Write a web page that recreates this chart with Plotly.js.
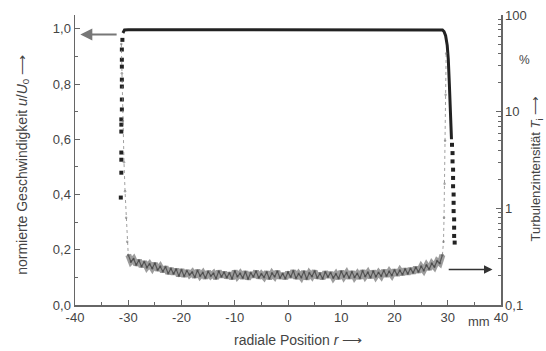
<!DOCTYPE html>
<html>
<head>
<meta charset="utf-8">
<script src="https://cdn.plot.ly/plotly-3.0.1.min.js"></script>
<style>html,body{margin:0;padding:0;background:#fff;}#chart{width:546px;height:351px;}</style>
</head>
<body>
<div id="chart"></div>
<script>
// ---- data ----
// velocity u/U0 : plateau and right edge (solid line)
var velLineX = [-31.0, -30.7, -30.0, -25, -20, -15, -10, -5, 0, 5, 10, 15, 20, 25, 28, 29.0, 29.3, 29.6, 29.9, 30.1, 30.3, 30.5, 30.7];
var velLineY = [0.985, 0.996, 0.997, 0.997, 0.997, 0.997, 0.997, 0.997, 0.997, 0.997, 0.997, 0.997, 0.997, 0.997, 0.997, 0.996, 0.99, 0.975, 0.94, 0.89, 0.8, 0.7, 0.6];
// velocity, left edge (sparse points)
var velLeftX = [-31.1, -31.2, -31.2, -31.2, -31.2, -31.2, -31.2, -31.2, -31.3, -31.3, -31.3, -31.3, -31.3, -31.3, -31.4];
var velLeftY = [0.96, 0.925, 0.888, 0.863, 0.816, 0.791, 0.744, 0.708, 0.672, 0.653, 0.628, 0.552, 0.526, 0.479, 0.389];
// velocity, right edge (sparse points)
var velRightX = [30.8, 30.9, 30.9, 31.0, 31.0, 31.0, 31.1, 31.1, 31.1, 31.2, 31.2, 31.2, 31.3];
var velRightY = [0.58, 0.55, 0.52, 0.49, 0.46, 0.43, 0.40, 0.37, 0.34, 0.31, 0.28, 0.25, 0.226];
// turbulence intensity Ti in % : core region
var turbX = [
  -30.0, -29.5, -29.0, -28.5, -28.0, -27.5, -27.0, -26.5, -26.0, -25.5, -25.0, -24.5, -24.0, -23.5, -23.0, -22.5, -22.0, -21.5, -21.0, -20.5,
  -20.0, -19.5, -19.0, -18.5, -18.0, -17.5, -17.0, -16.5, -16.0, -15.5, -15.0, -14.5, -14.0, -13.5, -13.0, -12.5, -12.0, -11.5, -11.0, -10.5,
  -10.0, -9.5, -9.0, -8.5, -8.0, -7.5, -7.0, -6.5, -6.0, -5.5, -5.0, -4.5, -4.0, -3.5, -3.0, -2.5, -2.0, -1.5, -1.0, -0.5,
  0.0, 0.5, 1.0, 1.5, 2.0, 2.5, 3.0, 3.5, 4.0, 4.5, 5.0, 5.5, 6.0, 6.5, 7.0, 7.5, 8.0, 8.5, 9.0, 9.5,
  10.0, 10.5, 11.0, 11.5, 12.0, 12.5, 13.0, 13.5, 14.0, 14.5, 15.0, 15.5, 16.0, 16.5, 17.0, 17.5, 18.0, 18.5, 19.0, 19.5,
  20.0, 20.5, 21.0, 21.5, 22.0, 22.5, 23.0, 23.5, 24.0, 24.5, 25.0, 25.5, 26.0, 26.5, 27.0, 27.5, 28.0, 28.5, 29.0];
var turbY = [
  0.33, 0.28, 0.30, 0.26, 0.29, 0.25, 0.28, 0.245, 0.265, 0.24, 0.27, 0.23, 0.25, 0.222, 0.248, 0.212, 0.238, 0.21, 0.235, 0.2,
  0.232, 0.198, 0.226, 0.205, 0.218, 0.194, 0.228, 0.2, 0.215, 0.19, 0.222, 0.2, 0.212, 0.188, 0.224, 0.196, 0.218, 0.192, 0.214, 0.187,
  0.225, 0.197, 0.212, 0.19, 0.221, 0.186, 0.215, 0.196, 0.224, 0.191, 0.209, 0.194, 0.22, 0.187, 0.213, 0.197, 0.223, 0.19, 0.211, 0.188,
  0.219, 0.195, 0.226, 0.189, 0.21, 0.193, 0.222, 0.186, 0.214, 0.198, 0.225, 0.19, 0.212, 0.187, 0.22, 0.195, 0.216, 0.191, 0.209, 0.188,
  0.223, 0.196, 0.215, 0.19, 0.221, 0.194, 0.211, 0.189, 0.226, 0.198, 0.217, 0.192, 0.224, 0.197, 0.216, 0.199, 0.228, 0.2, 0.222, 0.203,
  0.23, 0.204, 0.228, 0.207, 0.236, 0.21, 0.238, 0.215, 0.245, 0.22, 0.25, 0.228, 0.258, 0.235, 0.268, 0.248, 0.285, 0.27, 0.33];
// turbulence intensity Ti in % : steep rise at the jet edges
var turbLeftX = [-31.3, -31.2, -31.0, -30.8, -30.6, -30.4, -30.2, -30.0];
var turbLeftY = [50, 25, 8, 3, 1.5, 0.8, 0.45, 0.33];
var turbRightX = [29.0, 29.2, 29.3, 29.4, 29.5, 29.6, 29.7];
var turbRightY = [0.33, 0.45, 0.8, 1.8, 5, 15, 40];
// tick labels
var xTickVals = [-40, -30, -20, -10, 0, 10, 20, 30, 40];
var xTickText = ['-40', '-30', '-20', '-10', '0', '10', '20', '30', '40'];
var yTickVals = [0, 0.2, 0.4, 0.6, 0.8, 1.0];
var yTickText = ['0,0', '0,2', '0,4', '0,6', '0,8', '1,0'];
var y2TickVals = [0.1, 1, 10, 100];
var y2TickText = ['0,1', '1', '10', '100'];

var txt = '#444';
var font = {family: 'Liberation Sans, Arial, sans-serif', size: 13, color: txt};

var edgeStyle = {line: {color: 'rgba(120,120,120,0.7)', width: 1, dash: 'dot'},
                 marker: {color: 'rgba(110,110,110,0.6)', size: 2.5}};

var traces = [
  {x: turbX, y: turbY, yaxis: 'y2', type: 'scatter', mode: 'lines',
   line: {color: 'rgba(60,60,60,0.5)', width: 6}, hoverinfo: 'skip'},
  {x: turbX, y: turbY, yaxis: 'y2', type: 'scatter', mode: 'lines+markers',
   line: {color: 'rgba(40,40,40,0.6)', width: 1.2},
   marker: {color: 'rgba(60,60,60,0.5)', size: 2.5}, hoverinfo: 'skip'},
  {x: turbLeftX, y: turbLeftY, yaxis: 'y2', type: 'scatter', mode: 'lines+markers',
   line: edgeStyle.line, marker: edgeStyle.marker, hoverinfo: 'skip'},
  {x: turbRightX, y: turbRightY, yaxis: 'y2', type: 'scatter', mode: 'lines+markers',
   line: edgeStyle.line, marker: edgeStyle.marker, hoverinfo: 'skip'},
  {x: velLineX, y: velLineY, type: 'scatter', mode: 'lines',
   line: {color: '#222', width: 3}, hoverinfo: 'skip'},
  {x: velLeftX, y: velLeftY, type: 'scatter', mode: 'markers',
   marker: {color: '#222', size: 4, symbol: 'square'}, hoverinfo: 'skip'},
  {x: velRightX, y: velRightY, type: 'scatter', mode: 'markers',
   marker: {color: '#222', size: 4, symbol: 'square'}, hoverinfo: 'skip'}
];

var axisCommon = {
  showgrid: false, zeroline: false, showline: true, linecolor: '#666', linewidth: 1.5,
  ticks: 'inside', ticklen: 5, tickcolor: '#666', tickwidth: 1, tickfont: font
};

var layout = {
  width: 546, height: 351,
  margin: {l: 75, r: 45, t: 15, b: 45.5},
  paper_bgcolor: '#fff', plot_bgcolor: '#fff',
  showlegend: false,
  font: font,
  xaxis: Object.assign({}, axisCommon, {
    range: [-40, 40], tickmode: 'array', tickvals: xTickVals, ticktext: xTickText,
    minor: {ticks: 'inside', dtick: 5, ticklen: 3, tickcolor: '#666'}
  }),
  yaxis: Object.assign({}, axisCommon, {
    range: [0, 1.05], tickmode: 'array', tickvals: yTickVals, ticktext: yTickText,
    minor: {ticks: 'inside', dtick: 0.1, ticklen: 3, tickcolor: '#666'}
  }),
  yaxis2: Object.assign({}, axisCommon, {
    type: 'log', range: [-1, 2], overlaying: 'y', side: 'right',
    tickmode: 'array', tickvals: y2TickVals, ticktext: y2TickText,
    minor: {ticks: 'inside', ticklen: 3, tickcolor: '#666',
      tickvals: [0.2,0.3,0.4,0.5,0.6,0.7,0.8,0.9,2,3,4,5,6,7,8,9,20,30,40,50,60,70,80,90]}
  }),
  annotations: [
    {xref: 'paper', yref: 'paper', x: -0.124, y: 0.484, textangle: -90, showarrow: false,
     xanchor: 'center', yanchor: 'middle',
     text: 'normierte Geschwindigkeit <i>u</i>/<i>U</i><sub>0</sub> ⟶', font: {family: font.family, size: 14, color: txt}},
    {xref: 'paper', yref: 'paper', x: 1.084, y: 0.47, textangle: -90, showarrow: false,
     xanchor: 'center', yanchor: 'middle',
     text: 'Turbulenzintensität <i>T</i><sub>i</sub> ⟶', font: {family: font.family, size: 13, color: txt}},
    {xref: 'paper', yref: 'paper', x: 1.056, y: 0.846, showarrow: false,
     xanchor: 'center', yanchor: 'middle', text: '%', font: {family: font.family, size: 12, color: txt}},
    {xref: 'paper', yref: 'paper', x: 0.523, y: -0.119, showarrow: false,
     xanchor: 'center', yanchor: 'middle',
     text: 'radiale Position <i>r</i> ⟶', font: {family: font.family, size: 14, color: txt}},
    {xref: 'x', yref: 'paper', x: 35.8, y: -0.058, showarrow: false,
     xanchor: 'center', yanchor: 'middle', text: 'mm', font: {family: font.family, size: 13, color: txt}},
    {xref: 'x', yref: 'y', axref: 'x', ayref: 'y', x: -39.0, y: 0.979, ax: -31.9, ay: 0.979,
     showarrow: true, arrowhead: 2, arrowsize: 1.2, arrowwidth: 2, arrowcolor: '#777', text: ''},
    {xref: 'x', yref: 'y', axref: 'x', ayref: 'y', x: 38.4, y: 0.1285, ax: 29.9, ay: 0.1285,
     showarrow: true, arrowhead: 2, arrowsize: 1.3, arrowwidth: 1.3, arrowcolor: '#333', text: ''}
  ]
};

Plotly.newPlot('chart', traces, layout, {staticPlot: true, displayModeBar: false});
</script>
</body>
</html>
